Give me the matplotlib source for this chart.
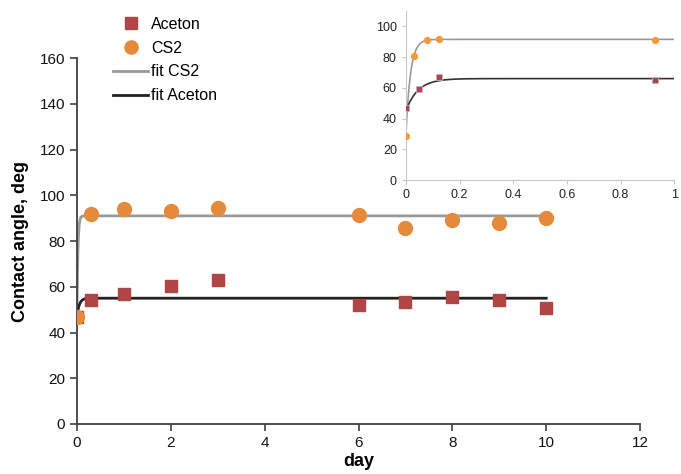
import numpy as np
import matplotlib
matplotlib.use("Agg")
import matplotlib.pyplot as plt
from matplotlib.lines import Line2D

plt.rcParams['font.family'] = ['Liberation Sans', 'DejaVu Sans']

# main plot data (days)
day = [0, 0.3, 1, 2, 3, 6, 7, 8, 9, 10]
aceton = [47, 54, 57, 60.5, 63, 52, 53.5, 55.5, 54, 50.5]
cs2 = [47, 92, 94, 93, 94.5, 91.5, 85.5, 89, 88, 90]

# fit parameters (start, plateau, time constant in days)
fit_cs2_main = (47, 91, 0.02)
fit_aceton_main = (47, 55, 0.05)

# inset data (first day)
day_in_cs2 = [0, 0.03, 0.08, 0.125, 0.93]
cs2_in = [29, 80.5, 91, 92, 91]
day_in_ac = [0, 0.05, 0.125, 0.93]
aceton_in = [47, 59, 67, 65]
fit_cs2_in = (29, 91.5, 0.017)
fit_aceton_in = (45, 66, 0.045)

c_ac = '#B04545'
c_cs2 = '#E58A3C'
c_cs2_in = '#F79A3A'
c_fit_cs2 = '#9A9A9A'
c_fit_ac = '#222222'
c_axis = '#404040'


def fit_curve(t, p):
    y0, ymax, tau = p
    return ymax - (ymax - y0) * np.exp(-t / tau)


fig = plt.figure(figsize=(6.81, 4.74), dpi=100)
ax = fig.add_axes([0.113, 0.1055, 0.827, 0.772])

t = np.linspace(0, 10, 2000)
ax.plot(t, fit_curve(t, fit_cs2_main), color=c_fit_cs2, lw=2, zorder=2)
ax.plot(t, fit_curve(t, fit_aceton_main), color=c_fit_ac, lw=2, zorder=2)
ax.scatter(day, aceton, marker='s', s=80, color=c_ac, zorder=3)
ax.scatter(day, cs2, marker='o', s=100, color=c_cs2, zorder=4)

ax.set_xlim(0, 12)
ax.set_ylim(0, 160)
ax.set_xticks(range(0, 13, 2))
ax.set_yticks(range(0, 161, 20))
for s in ['top', 'right']:
    ax.spines[s].set_visible(False)
for s in ['left', 'bottom']:
    ax.spines[s].set_color(c_axis)
    ax.spines[s].set_linewidth(1.3)
ax.tick_params(colors=c_axis, labelcolor='#111111', labelsize=11, length=5, width=1.2)
ax.set_xlabel('day', fontsize=13, fontweight='bold', labelpad=2)
ax.set_ylabel('Contact angle, deg', fontsize=13, fontweight='bold', labelpad=8)

handles = [
    Line2D([], [], ls='none', marker='s', ms=8.5, color=c_ac),
    Line2D([], [], ls='none', marker='o', ms=9.5, color=c_cs2),
    Line2D([], [], color=c_fit_cs2, lw=2),
    Line2D([], [], color=c_fit_ac, lw=2),
]
fig.legend(handles, ['Aceton', 'CS2', 'fit CS2', 'fit Aceton'],
           loc='upper left', bbox_to_anchor=(0.145, 0.995), frameon=False,
           fontsize=11.5, handlelength=2.2, handletextpad=0.2, labelspacing=0.55)

# inset
ins = fig.add_axes([0.596, 0.62, 0.394, 0.357])
ti = np.linspace(0, 1, 2000)
ins.plot(ti, fit_curve(ti, fit_cs2_in), color=c_fit_cs2, lw=1.2)
ins.plot(ti, fit_curve(ti, fit_aceton_in), color='#333333', lw=1.2)
ins.scatter(day_in_ac, aceton_in, marker='s', s=16, color=c_ac,
            edgecolors='#B8B0D8', linewidths=0.6, zorder=3)
ins.scatter(day_in_cs2, cs2_in, marker='o', s=18, color=c_cs2_in, zorder=4)
ins.set_xlim(0, 1)
ins.set_ylim(0, 110)
ins.set_xticks([0, 0.2, 0.4, 0.6, 0.8, 1])
ins.set_xticklabels(['0', '0.2', '0.4', '0.6', '0.8', '1'])
ins.set_yticks(range(0, 101, 20))
for s in ['top', 'right']:
    ins.spines[s].set_visible(False)
for s in ['left', 'bottom']:
    ins.spines[s].set_color('#C8C8C8')
ins.tick_params(colors='#C8C8C8', labelcolor='#222222', labelsize=9, length=3)
ins.patch.set_alpha(0)

fig.savefig('out.png', dpi=100)
